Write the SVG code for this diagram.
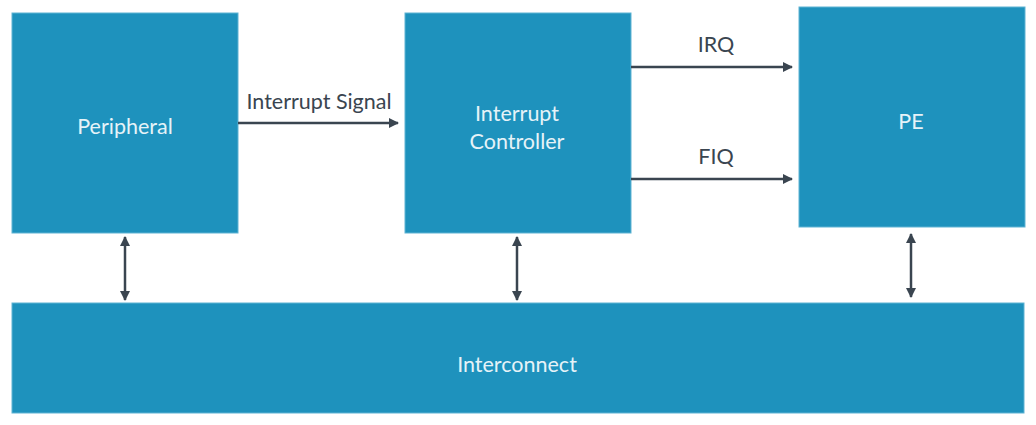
<svg xmlns="http://www.w3.org/2000/svg" width="1036" height="425" viewBox="0 0 1036 425">
<defs>
<style>
.box{fill:#1e92bd;stroke:#5fb3d3;stroke-width:1}
.lbl{font-family:Lato,"Liberation Sans",sans-serif;font-size:21.5px;fill:#e6f3f8;text-anchor:middle}
.elbl{font-family:Lato,"Liberation Sans",sans-serif;font-size:21.5px;fill:#3a4550;text-anchor:middle}
.ln{stroke:#3a4550;stroke-width:2.5;fill:none}
</style>
<marker id="ah" viewBox="0 0 10 10" refX="9" refY="5" markerWidth="4" markerHeight="4" orient="auto-start-reverse">
<path d="M0,0 L10,5 L0,10 z" fill="#3a4550"/>
</marker>
</defs>
<rect width="1036" height="425" fill="#ffffff"/>
<g id="peripheral"><rect class="box" x="12" y="13" width="226" height="220"/><text class="lbl" x="125" y="134">Peripheral</text></g>
<g id="controller"><rect class="box" x="405" y="13" width="226" height="220"/><text class="lbl" x="517" y="121">Interrupt</text><text class="lbl" x="517" y="149">Controller</text></g>
<g id="pe"><rect class="box" x="799" y="7" width="226" height="220"/><text class="lbl" x="911" y="129">PE</text></g>
<g id="interconnect"><rect class="box" x="12" y="303" width="1012" height="110"/><text class="lbl" x="517" y="372">Interconnect</text></g>
<g id="connectors">
<line class="ln" x1="238" y1="123" x2="398" y2="123" marker-end="url(#ah)"/>
<text class="elbl" x="319" y="109">Interrupt Signal</text>
<line class="ln" x1="631" y1="67" x2="792" y2="67" marker-end="url(#ah)"/>
<text class="elbl" x="716" y="52">IRQ</text>
<line class="ln" x1="631" y1="179" x2="792" y2="179" marker-end="url(#ah)"/>
<text class="elbl" x="716" y="164">FIQ</text>
<line class="ln" x1="125" y1="237" x2="125" y2="300" marker-start="url(#ah)" marker-end="url(#ah)"/>
<line class="ln" x1="517" y1="237" x2="517" y2="300" marker-start="url(#ah)" marker-end="url(#ah)"/>
<line class="ln" x1="911" y1="234" x2="911" y2="297" marker-start="url(#ah)" marker-end="url(#ah)"/>
</g>
</svg>
